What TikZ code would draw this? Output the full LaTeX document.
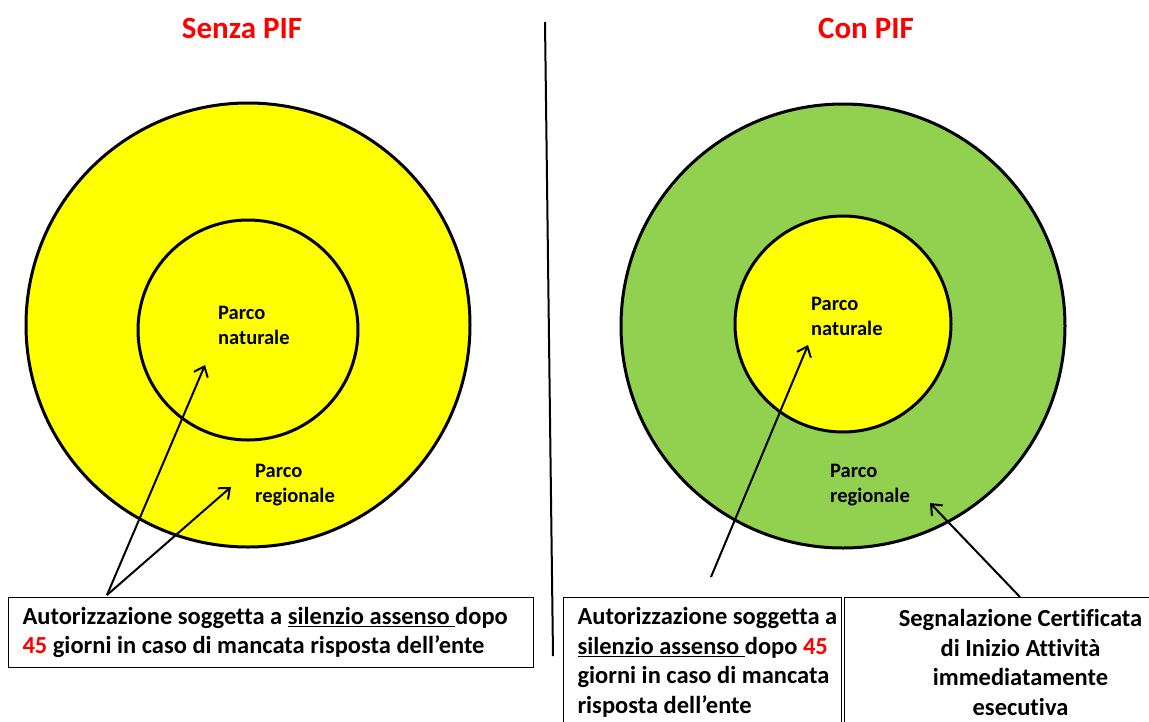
\documentclass[tikz,border=0pt]{standalone}
\usepackage{fontspec}
\setmainfont{Carlito}[Ligatures={NoCommon}]
\usetikzlibrary{arrows.meta}
\definecolor{ParkYellow}{HTML}{FFFF00}
\definecolor{ParkGreen}{HTML}{92D050}
\definecolor{TitleRed}{HTML}{FF0000}

\begin{document}
\begin{tikzpicture}[x=1pt,y=-1pt,
    ring/.style={draw, line width=3pt},
    lbl/.style={font=\bfseries\fontsize{20.5}{25}\selectfont, align=left, inner sep=0pt, anchor=north west},
    title/.style={font=\bfseries\fontsize{31}{36}\selectfont, text=TitleRed},
    note/.style={draw, line width=1pt, font=\bfseries\fontsize{24.5}{29.5}\selectfont, inner sep=0pt, anchor=north west,
        execute at begin node={\spaceskip=0pt\xspaceskip=0pt}},
    pointer/.style={-{Straight Barb[length=9pt,width=15pt]}, line width=2pt}]
    \useasboundingbox (0,0) rectangle (1149,721);

    % Titles
    \node[title] (tSenza) at (242,28) {Senza PIF};
    \node[title] (tCon) at (866,28) {Con PIF};

    % Divider
    \coordinate (divTop) at (545,22);
    \coordinate (divBot) at (553,656);
    \draw[line width=2pt] (divTop) -- (divBot);

    % Left circles (senza PIF)
    \draw[ring, fill=ParkYellow] (248,325) circle (222);
    \draw[ring, fill=ParkYellow] (248,330) circle (110);

    % Right circles (con PIF)
    \draw[ring, fill=ParkGreen] (843,326) circle (222);
    \draw[ring, fill=ParkYellow] (843,324) circle (108);

    % Labels
    \node[lbl] (natL) at (218,306) {Parco\\naturale};
    \node[lbl] (regL) at (255,464) {Parco\\regionale};
    \node[lbl] (natR) at (811,297) {Parco\\naturale};
    \node[lbl] (regR) at (830,464) {Parco\\regionale};

    % Boxes
    \node[note, minimum width=525pt, minimum height=70pt, text width=497pt, align=flush left] (boxL) at (8,597)
        {Autorizzazione soggetta a \underline{silenzio assenso\ }dopo\\\textcolor{TitleRed}{45} giorni in caso di mancata risposta dell’ente};
    \node[note, minimum width=278pt, minimum height=130pt, text width=250pt, align=flush left] (boxR) at (563,597)
        {\mbox{Autorizzazione soggetta a}\\\mbox{\underline{silenzio assenso\ }dopo \textcolor{TitleRed}{45}}\\\mbox{giorni in caso di mancata}\\\mbox{risposta dell’ente}};
    \node[note, minimum width=352pt, minimum height=130pt, text width=330pt, align=flush center] (boxS) at (844,597)
        {Segnalazione Certificata\\di Inizio Attività\\immediatamente\\esecutiva};

    % Arrows
    \coordinate (srcL) at (107,595);
    \coordinate (srcR) at (711,577);
    \coordinate (srcS) at (1020,597);
    \coordinate (hitNatL) at (205,365);
    \coordinate (hitRegL) at (231,487);
    \coordinate (hitNatR) at (808,345);
    \coordinate (hitRegR) at (930,503);
    \draw[pointer] (srcL) -- (hitNatL);
    \draw[pointer] (srcL) -- (hitRegL);
    \draw[pointer] (srcR) -- (hitNatR);
    \draw[pointer] (srcS) -- (hitRegR);
\end{tikzpicture}
\end{document}
